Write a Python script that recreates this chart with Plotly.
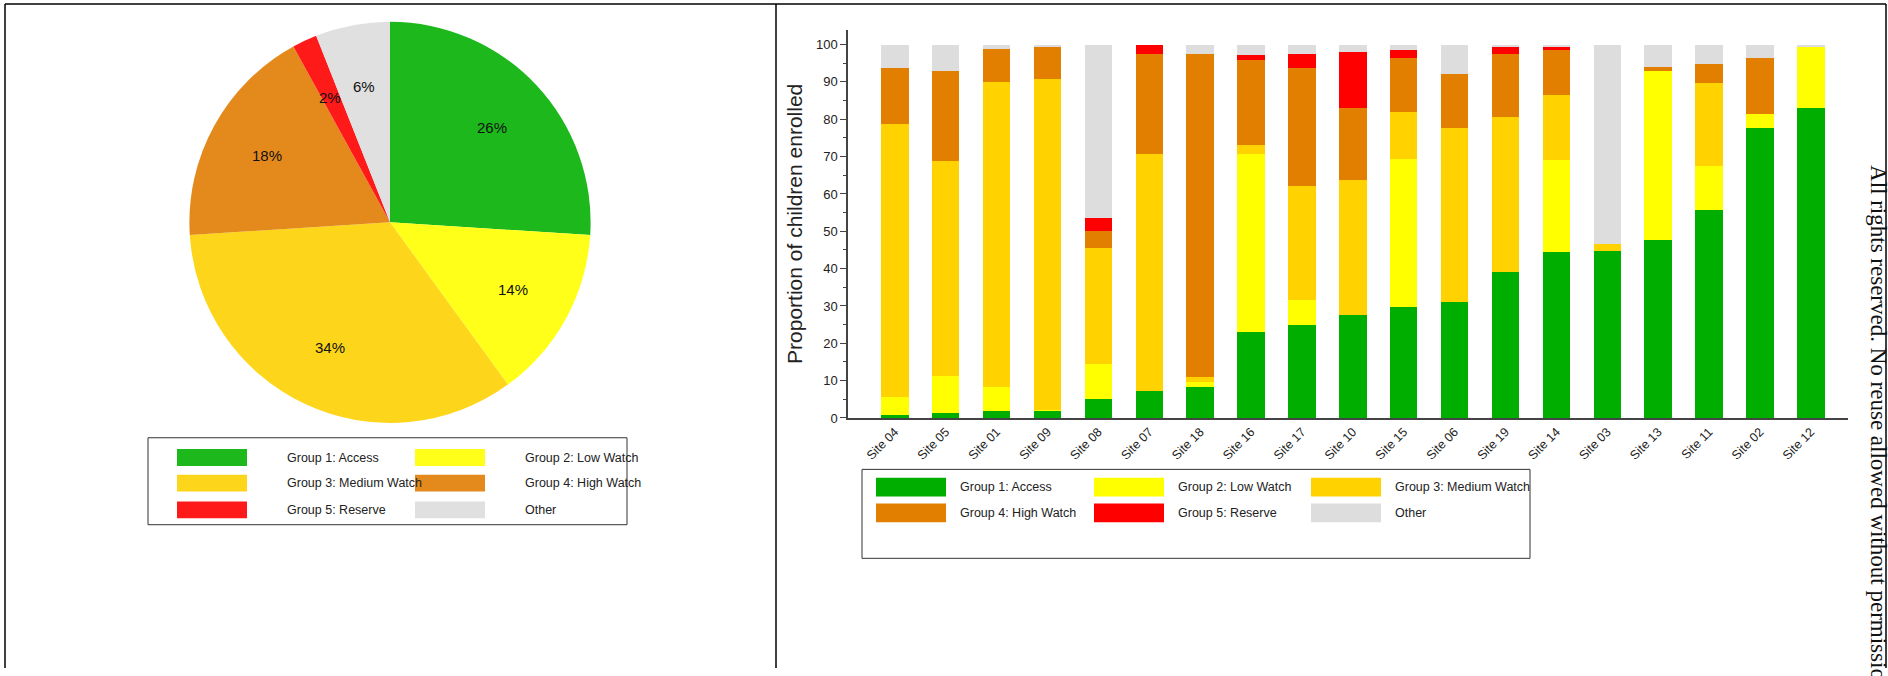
import math
import plotly.graph_objects as go

# ---------------- data ----------------
groups = ["Group 1: Access", "Group 2: Low Watch", "Group 3: Medium Watch",
          "Group 4: High Watch", "Group 5: Reserve", "Other"]
pie_values = [26, 14, 34, 18, 2, 6]
pie_colors = ["#1cb81c", "#ffff1a", "#fdd51a", "#e48a1c", "#ff1a1a", "#e0e0e0"]
bar_colors = ["#00ae00", "#ffff00", "#ffd200", "#e37f00", "#ff0000", "#dddddd"]

sites = ["Site 04", "Site 05", "Site 01", "Site 09", "Site 08", "Site 07", "Site 18",
         "Site 16", "Site 17", "Site 10", "Site 15", "Site 06", "Site 19", "Site 14",
         "Site 03", "Site 13", "Site 11", "Site 02", "Site 12"]
g1_access = [0.9, 1.4, 1.9, 2.0, 5.0, 7.2, 8.4, 23.1, 24.8, 27.5, 29.6, 31.0, 39.2, 44.5, 44.6, 47.8, 55.8, 77.7, 83.1]
g2_low = [4.7, 9.8, 6.5, 0.2, 9.5, 0.0, 1.2, 47.7, 6.9, 0.0, 39.7, 0.0, 0.0, 24.5, 0.0, 45.2, 11.7, 3.7, 16.5]
g3_medium = [73.2, 57.7, 81.5, 88.7, 30.9, 63.6, 1.3, 2.2, 30.5, 36.3, 12.6, 46.7, 41.4, 17.5, 2.1, 0.0, 22.1, 0.0, 0.0]
g4_high = [14.9, 24.1, 8.9, 8.6, 4.6, 26.8, 86.5, 23.0, 31.6, 19.1, 14.6, 14.5, 16.8, 12.0, 0.0, 1.0, 5.1, 14.9, 0.0]
g5_reserve = [0.0, 0.0, 0.0, 0.0, 3.6, 2.4, 0.0, 1.1, 3.6, 15.0, 2.0, 0.0, 2.1, 1.0, 0.0, 0.0, 0.0, 0.0, 0.0]
other = [6.3, 7.0, 1.2, 0.5, 46.4, 0.0, 2.6, 2.9, 2.6, 2.1, 1.5, 7.8, 0.5, 0.5, 53.3, 6.0, 5.3, 3.7, 0.4]
bar_series = [g1_access, g2_low, g3_medium, g4_high, g5_reserve, other]
y_ticks = list(range(0, 101, 10))

W, H = 1888, 676
FONT = "Arial, Liberation Sans, sans-serif"


def px(x):
    return x / W


def py(y):
    return 1 - y / H


fig = go.Figure()

# ---------------- pie ----------------
PIE_CX, PIE_CY, PIE_R = 390, 225, 203
fig.add_trace(go.Pie(
    values=pie_values, labels=groups, sort=False, direction="clockwise", rotation=0,
    marker=dict(colors=pie_colors, line=dict(width=0)),
    textinfo="none",
    domain=dict(x=[px(PIE_CX - PIE_R), px(PIE_CX + PIE_R)], y=[py(PIE_CY + PIE_R), py(PIE_CY - PIE_R)]),
    showlegend=False, hoverinfo="label+percent",
))

# ---------------- stacked bars ----------------
for name, vals, col in zip(groups, bar_series, bar_colors):
    fig.add_trace(go.Bar(x=sites, y=vals, name=name, marker=dict(color=col, line=dict(width=0)),
                         width=0.54, showlegend=False))

shapes = []
annotations = []

# pie percentage labels, placed at each slice's mid-angle
total = sum(pie_values)
cum = 0.0
for v in pie_values:
    mid = (cum + v / 2) / total * 2 * math.pi
    cum += v
    r = 0.69 * PIE_R
    lx = PIE_CX + r * math.sin(mid)
    ly = PIE_CY - r * math.cos(mid)
    annotations.append(dict(xref="paper", yref="paper", x=px(lx), y=py(ly), text=f"{round(v / total * 100)}%",
                            showarrow=False, xanchor="center", yanchor="middle",
                            font=dict(family=FONT, size=15, color="#111")))

# panel borders
line_style = dict(color="#000", width=1.5)
shapes.append(dict(type="line", xref="paper", yref="paper", x0=px(5), x1=px(1886), y0=py(4), y1=py(4), line=line_style))
shapes.append(dict(type="line", xref="paper", yref="paper", x0=px(5), x1=px(5), y0=py(4), y1=py(676), line=line_style))
shapes.append(dict(type="line", xref="paper", yref="paper", x0=px(776), x1=px(776), y0=py(4), y1=py(676), line=line_style))
shapes.append(dict(type="line", xref="paper", yref="paper", x0=px(1886), x1=px(1886), y0=py(4), y1=py(676), line=line_style))


def legend_box(x0, y0, x1, y1, colors, ncols, col_x, row_y, sw_w, sw_h, text_dx):
    shapes.append(dict(type="rect", xref="paper", yref="paper", x0=px(x0), x1=px(x1), y0=py(y1), y1=py(y0),
                       line=dict(color="#333", width=1), fillcolor="rgba(0,0,0,0)"))
    for i, (name, col) in enumerate(zip(groups, colors)):
        c, r = i % ncols, i // ncols
        sx, sy = col_x[c], row_y[r]
        shapes.append(dict(type="rect", xref="paper", yref="paper", x0=px(sx), x1=px(sx + sw_w),
                           y0=py(sy + sw_h / 2), y1=py(sy - sw_h / 2), line=dict(width=0), fillcolor=col))
        annotations.append(dict(xref="paper", yref="paper", x=px(sx + sw_w + text_dx), y=py(sy),
                                text=name, showarrow=False, xanchor="left", yanchor="middle",
                                font=dict(family=FONT, size=12.5, color="#222")))


legend_box(148, 443, 627, 531, pie_colors, 2, [177, 415], [463, 489, 516], 70, 17, 38)
legend_box(862, 475, 1530, 565, bar_colors, 3, [876, 1094, 1311], [493, 519], 70, 19, 12)

# side note (clipped at the page edge)
annotations.append(dict(xref="paper", yref="paper", x=px(1879), y=py(165),
                        text="All rights reserved. No reuse allowed without permission.",
                        showarrow=False, textangle=90, xanchor="center", yanchor="top",
                        font=dict(family="Liberation Serif, DejaVu Serif, serif", size=23, color="#111")))

fig.update_layout(
    width=W, height=H, margin=dict(l=0, r=0, t=0, b=0),
    paper_bgcolor="white", plot_bgcolor="white",
    barmode="stack",
    shapes=shapes, annotations=annotations,
    font=dict(family=FONT, color="#333"),
    xaxis=dict(domain=[px(848), px(1848)], range=[-0.92, 18.73], showline=True, linecolor="#444", linewidth=1.5,
               ticks="", tickangle=-45, tickfont=dict(size=12.5, color="#222"), showgrid=False, zeroline=False),
    yaxis=dict(domain=[py(423), py(30)], range=[0, 104], tickvals=y_ticks, showline=True, linecolor="#444",
               linewidth=1.5, ticks="outside", ticklen=6, tickcolor="#444", tickfont=dict(size=13, color="#222"),
               minor=dict(dtick=5, ticks="outside", ticklen=3, tickcolor="#444"),
               showgrid=False, zeroline=False,
               title=dict(text="Proportion of children enrolled", font=dict(size=21, color="#222"), standoff=8)),
)

fig.write_html("out.html", config={"displayModeBar": False},
               post_script="document.body.style.margin='0px';document.body.style.overflow='hidden';")
